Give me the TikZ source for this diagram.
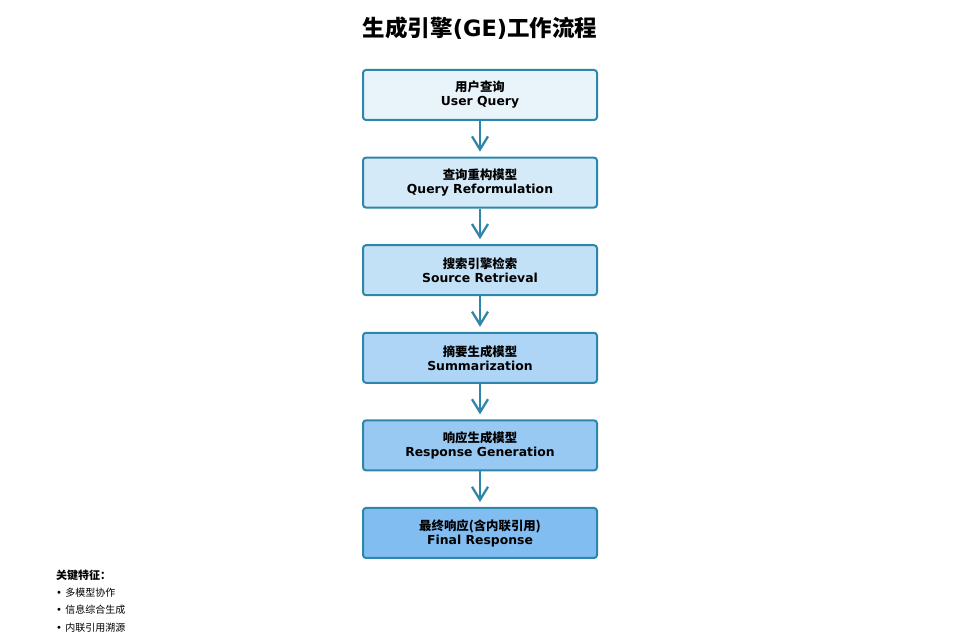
\documentclass[tikz,border=0pt]{standalone}
\usepackage{fontspec}
\setmainfont{DejaVu Sans}
\newfontfamily\cjk{Noto Sans CJK SC}
\usetikzlibrary{positioning,arrows.meta}
\definecolor{edgeblue}{HTML}{2E86AB}
\definecolor{fillA}{HTML}{E8F4FA}
\definecolor{fillB}{HTML}{D5EAF8}
\definecolor{fillC}{HTML}{C2E0F6}
\definecolor{fillD}{HTML}{AED5F5}
\definecolor{fillE}{HTML}{98C9F3}
\definecolor{fillF}{HTML}{82BDF2}
\begin{document}
\begin{tikzpicture}[x=1pt,y=1pt,
    stage/.style={draw=edgeblue, line width=2pt, rounded corners=3pt,
        minimum width=234pt, minimum height=50pt, align=center,
        font=\fontsize{12.4}{14}\selectfont\bfseries},
    flow/.style={draw=edgeblue, line width=2.3pt,
        -{Straight Barb[length=13pt,width=16pt]}, shorten >=5pt},
    keyline/.style={anchor=west, inner sep=0pt, font=\fontsize{10}{12}\selectfont}]
    \useasboundingbox[fill=white] (0,0) rectangle (960,642);
    %title
    \node[font=\fontsize{22.5}{26}\selectfont\bfseries] (title) at (480,614)
        {{\cjk 生成引擎}(GE){\cjk 工作流程}};
    %stages
    \node[stage, fill=fillA] (query) at (480,547) {{\cjk 用户查询}\\User Query};
    \node[stage, fill=fillB, below=35.6pt of query] (reform) {{\cjk 查询重构模型}\\Query Reformulation};
    \node[stage, fill=fillC, below=35.6pt of reform] (retrieve) {{\cjk 搜索引擎检索}\\Source Retrieval};
    \node[stage, fill=fillD, below=35.6pt of retrieve] (summ) {{\cjk 摘要生成模型}\\Summarization};
    \node[stage, fill=fillE, below=35.6pt of summ] (respgen) {{\cjk 响应生成模型}\\Response Generation};
    \node[stage, fill=fillF, below=35.6pt of respgen] (final) {{\cjk 最终响应(含内联引用)}\\Final Response};
    %arrows
    \draw[flow] (query) -- (reform);
    \draw[flow] (reform) -- (retrieve);
    \draw[flow] (retrieve) -- (summ);
    \draw[flow] (summ) -- (respgen);
    \draw[flow] (respgen) -- (final);
    %key features
    \node[keyline, font=\fontsize{11}{13}\selectfont\bfseries] (keyhead) at (56,67) {\cjk 关键特征：};
    \node[keyline] (keyA) at (56,49) {• {\cjk 多模型协作}};
    \node[keyline] (keyB) at (56,32) {• {\cjk 信息综合生成}};
    \node[keyline] (keyC) at (56,14) {• {\cjk 内联引用溯源}};
\end{tikzpicture}
\end{document}
